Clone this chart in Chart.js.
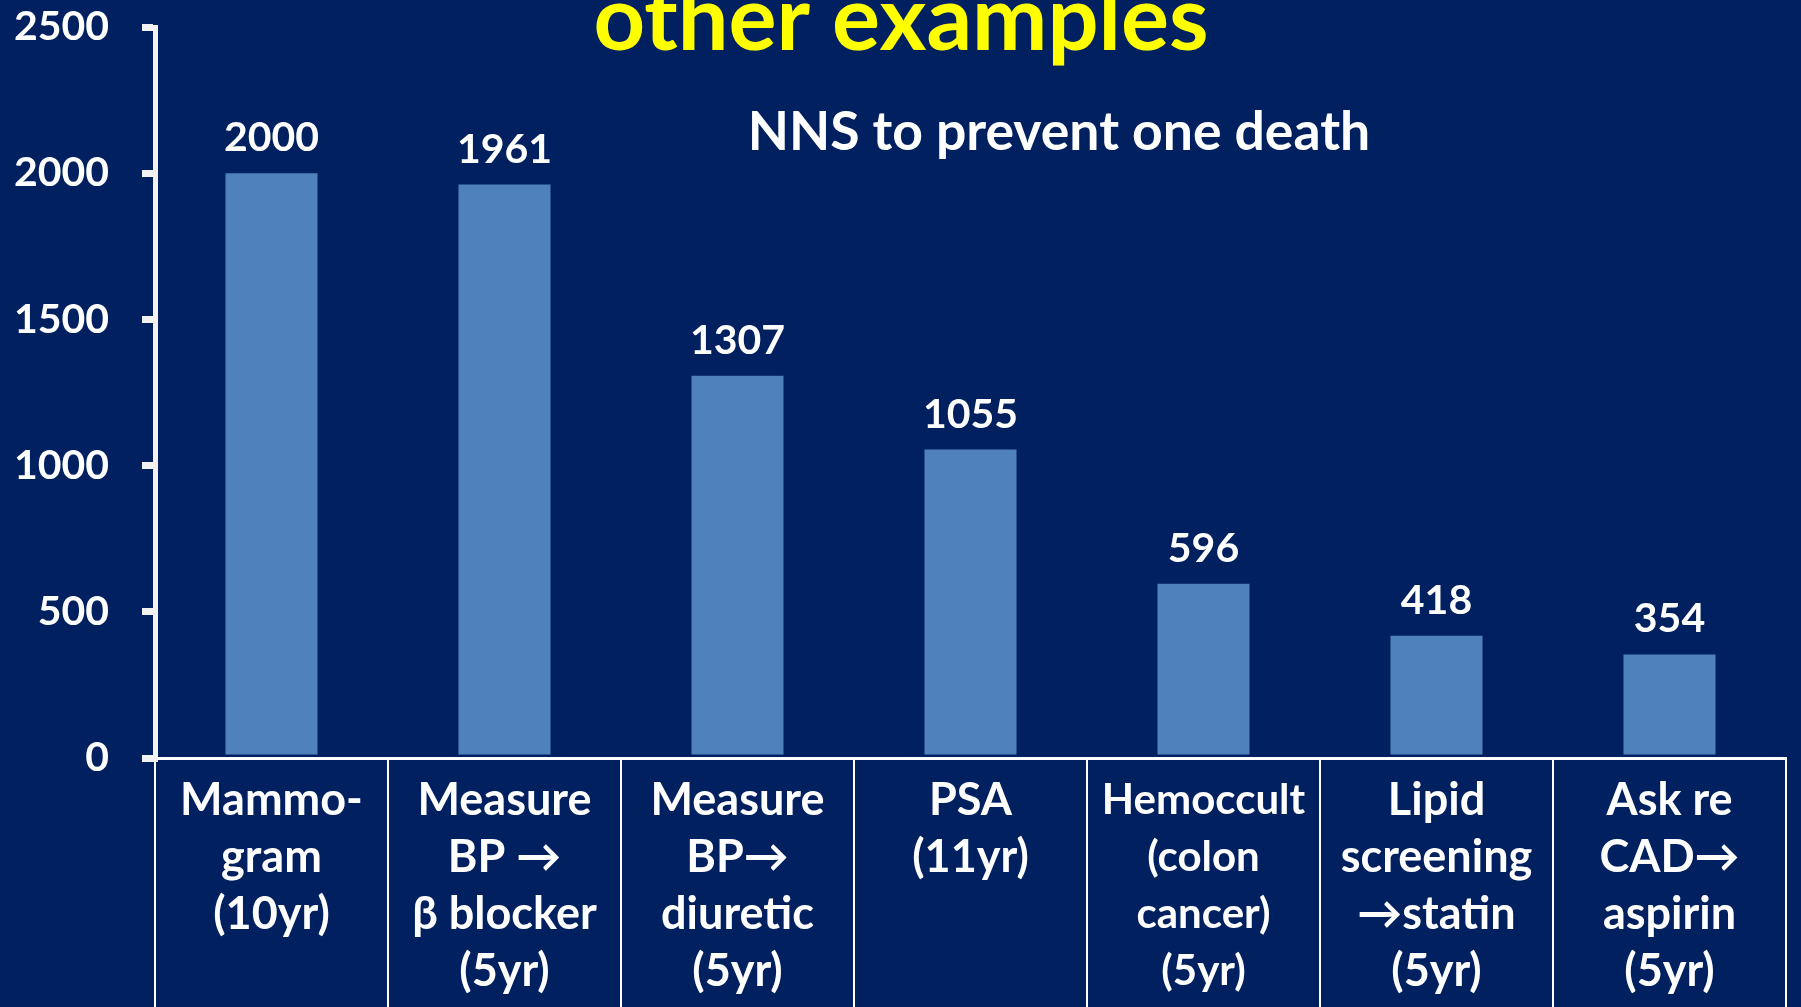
<!DOCTYPE html>
<html>
<head>
<meta charset="utf-8">
<script src="https://cdn.jsdelivr.net/npm/chart.js@4.4.0/dist/chart.umd.min.js"></script>
<style>
  html, body { margin: 0; padding: 0; background: #002060; overflow: hidden; }
  canvas { display: block; }
</style>
</head>
<body>
<canvas id="grafico" width="1801" height="1007"></canvas>
<script>
// dados do grafico
let categorias = [
  ["Mammo-", "gram", "(10yr)"],
  ["Measure", "BP \u2192", "\u03b2 blocker", "(5yr)"],
  ["Measure", "BP\u2192", "diuretic", "(5yr)"],
  ["PSA", "(11yr)"],
  ["Hemoccult", "(colon", "cancer)", "(5yr)"],
  ["Lipid", "screening", "\u2192statin", "(5yr)"],
  ["Ask re", "CAD\u2192", "aspirin", "(5yr)"]
];
let valores = [2000, 1961, 1307, 1055, 596, 418, 354];
let ticksY = [0, 500, 1000, 1500, 2000, 2500];
let titulo = "other examples";
let subtitulo = "NNS to prevent one death";

Chart.defaults.font.family = "Lato";
Chart.defaults.font.weight = "bold";
Chart.defaults.color = "#ffffff";

// valores em cima das barras
const rotulosBarras = {
  id: "rotulosBarras",
  afterDatasetsDraw(chart) {
    let ctx = chart.ctx;
    let meta = chart.getDatasetMeta(0);
    ctx.save();
    ctx.font = "bold 41px Lato";
    ctx.fillStyle = "#ffffff";
    ctx.textAlign = "center";
    ctx.textBaseline = "alphabetic";
    meta.data.forEach(function (barra, i) {
      ctx.fillText(String(valores[i]), barra.x, barra.y - 22);
    });
    ctx.restore();
  }
};

// titulos do slide
const titulos = {
  id: "titulos",
  afterDraw(chart) {
    let ctx = chart.ctx;
    ctx.save();
    ctx.textAlign = "center";
    ctx.textBaseline = "alphabetic";
    ctx.fillStyle = "#ffff00";
    ctx.font = "bold 90px Lato";
    ctx.fillText(titulo, 901, 50);
    ctx.fillStyle = "#ffffff";
    ctx.font = "bold 53.5px Lato";
    ctx.fillText(subtitulo, 1059, 150);
    ctx.restore();
  }
};

let ctx = document.getElementById("grafico").getContext("2d");

new Chart(ctx, {
  type: "bar",
  data: {
    labels: categorias,
    datasets: [{
      data: valores,
      backgroundColor: "#4f81bd",
      borderWidth: 0,
      categoryPercentage: 1,
      barPercentage: 0.395
    }]
  },
  options: {
    responsive: false,
    animation: false,
    layout: { padding: { top: 0, right: 15, bottom: 0, left: 0 } },
    plugins: {
      legend: { display: false },
      tooltip: { enabled: false }
    },
    scales: {
      x: {
        grid: {
          offset: true,
          drawOnChartArea: false,
          drawTicks: true,
          tickLength: 250,
          color: "#ffffff",
          lineWidth: 2
        },
        border: { display: true, color: "#ffffff", width: 3 },
        ticks: {
          color: "#ffffff",
          font: function (c) {
            // Hemoccult e menor no original
            let tam = c.index === 4 ? 42 : 45;
            return { size: tam, weight: "bold", lineHeight: 57 / tam };
          },
          padding: -236,
          maxRotation: 0,
          autoSkip: false
        },
        afterFit: function (scale) { scale.height = 249; }
      },
      y: {
        min: 0,
        max: 2500,
        afterBuildTicks: function (scale) {
          scale.ticks = ticksY.map(function (v) { return { value: v }; });
        },
        grid: {
          drawOnChartArea: false,
          drawTicks: true,
          tickLength: 13,
          color: "#f2f2f2",
          lineWidth: 7
        },
        border: { display: true, color: "#f2f2f2", width: 5 },
        ticks: {
          color: "#ffffff",
          font: { size: 41, weight: "bold" },
          padding: 33,
          callback: function (valor) { return String(valor); }
        },
        afterFit: function (scale) {
          scale.width = 155;
          scale.paddingTop = 27;
          scale.paddingBottom = 0;
        }
      }
    }
  },
  plugins: [rotulosBarras, titulos]
});
</script>
</body>
</html>
